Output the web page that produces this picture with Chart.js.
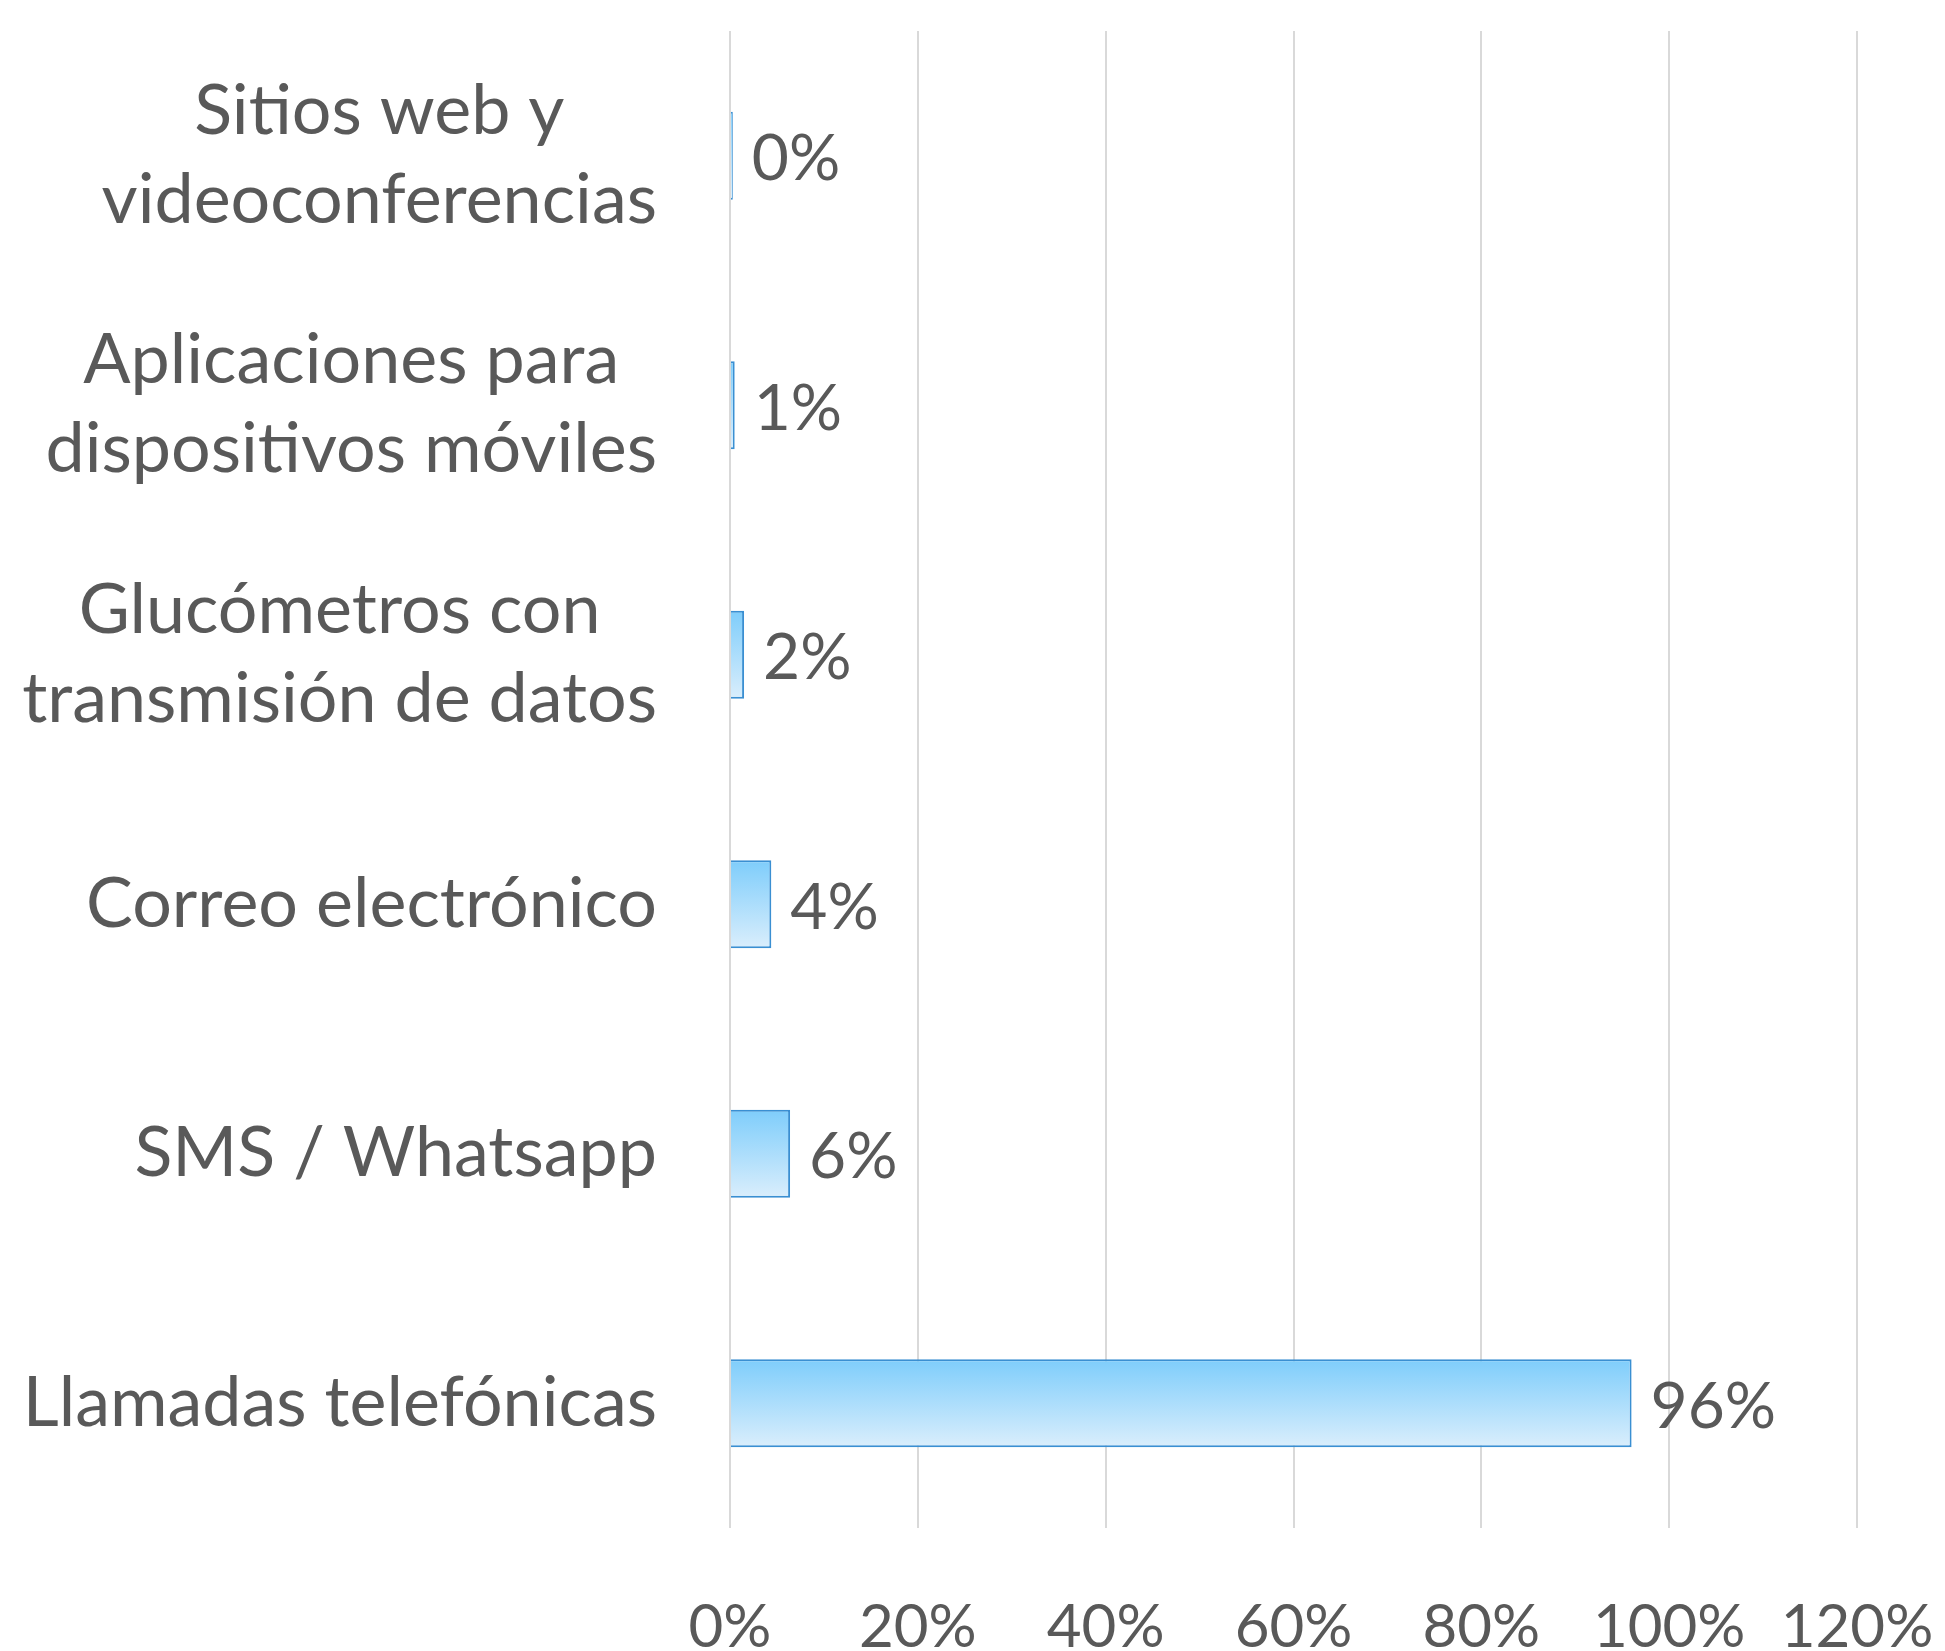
<!DOCTYPE html>
<html>
<head>
<meta charset="utf-8">
<script src="https://cdn.jsdelivr.net/npm/chart.js@4/dist/chart.umd.min.js"></script>
<style>
  html, body { margin: 0; padding: 0; background: #ffffff; }
  #wrap { width: 1945px; height: 1651px; position: relative; }
</style>
</head>
<body>
<div id="wrap"><canvas id="c"></canvas></div>
<script>
const categories = [
  ["Sitios web y", "videoconferencias"],
  ["Aplicaciones para", "dispositivos móviles"],
  ["Glucómetros con", "transmisión de datos"],
  "Correo electrónico",
  "SMS / Whatsapp",
  "Llamadas telefónicas"
];
const values = [0.3, 0.5, 1.5, 4.4, 6.4, 96];
const xMin = 0, xMax = 120, xStep = 20;

const FONT = "Lato";
const TEXT = "#595959";
const CAT_SIZE = 70;
const VAL_SIZE = 64;
const CAT_LINE = 89;
const YPAD = 73;

function barGradient(ctx) {
  const chart = ctx.chart;
  const y = chart.scales.y;
  if (!y || ctx.dataIndex === undefined) return "#a6dafb";
  const c = y.getPixelForTick(ctx.dataIndex);
  const band = (y.bottom - y.top) / categories.length;
  const half = band * 0.353 / 2;
  if (!isFinite(c) || !isFinite(half) || half <= 0) return "#a6dafb";
  const g = chart.ctx.createLinearGradient(0, c - half, 0, c + half);
  g.addColorStop(0, "#7ecdfb");
  g.addColorStop(1, "#daeefc");
  return g;
}

const labelPlugin = {
  id: "customLabels",
  afterDatasetsDraw(chart) {
    const ctx = chart.ctx;
    const meta = chart.getDatasetMeta(0);
    ctx.save();
    ctx.fillStyle = TEXT;
    ctx.font = `${VAL_SIZE}px ${FONT}`;
    ctx.textAlign = "left";
    ctx.textBaseline = "middle";
    meta.data.forEach((bar, i) => {
      const v = chart.data.datasets[0].data[i];
      ctx.fillText(Math.round(v) + "%", bar.x + 19, bar.y + 4);
    });
    ctx.font = `${CAT_SIZE}px ${FONT}`;
    const y = chart.scales.y;
    const rightX = chart.chartArea.left - YPAD;
    y.ticks.forEach((t, i) => {
      const lbl = chart.data.labels[i];
      const lines = Array.isArray(lbl) ? lbl : [lbl];
      let widest = 0;
      lines.forEach(l => { widest = Math.max(widest, ctx.measureText(l).width); });
      const cx = rightX - widest / 2;
      const cy = y.getPixelForTick(i);
      ctx.textAlign = "center";
      lines.forEach((l, k) => {
        const off = (k - (lines.length - 1) / 2) * CAT_LINE;
        ctx.fillText(l, cx, cy + off);
      });
    });
    ctx.restore();
  }
};

new Chart(document.getElementById("c"), {
  type: "bar",
  data: {
    labels: categories,
    datasets: [{
      data: values,
      backgroundColor: barGradient,
      borderColor: "#3a8fd2",
      borderWidth: 2,
      borderSkipped: "start",
      categoryPercentage: 0.7,
      barPercentage: 0.504
    }]
  },
  options: {
    indexAxis: "y",
    responsive: true,
    maintainAspectRatio: false,
    animation: false,
    layout: { padding: { top: 31, right: 88, bottom: 0, left: 0 } },
    plugins: { legend: { display: false }, tooltip: { enabled: false } },
    scales: {
      x: {
        min: xMin, max: xMax,
        ticks: {
          stepSize: xStep,
          color: TEXT,
          font: { family: FONT, size: 60 },
          padding: 64,
          maxRotation: 0,
          autoSkip: false,
          callback: v => v + "%"
        },
        grid: { color: "#d9d9d9", lineWidth: 2, drawTicks: false },
        border: { display: false },
        afterFit: s => { s.height = 123; s.paddingLeft = 0; s.paddingRight = 0; }
      },
      y: {
        ticks: { display: false },
        grid: { display: false, drawTicks: false },
        border: { display: false },
        afterFit: s => { s.width = 730; }
      }
    }
  },
  plugins: [labelPlugin]
});
</script>
</body>
</html>
